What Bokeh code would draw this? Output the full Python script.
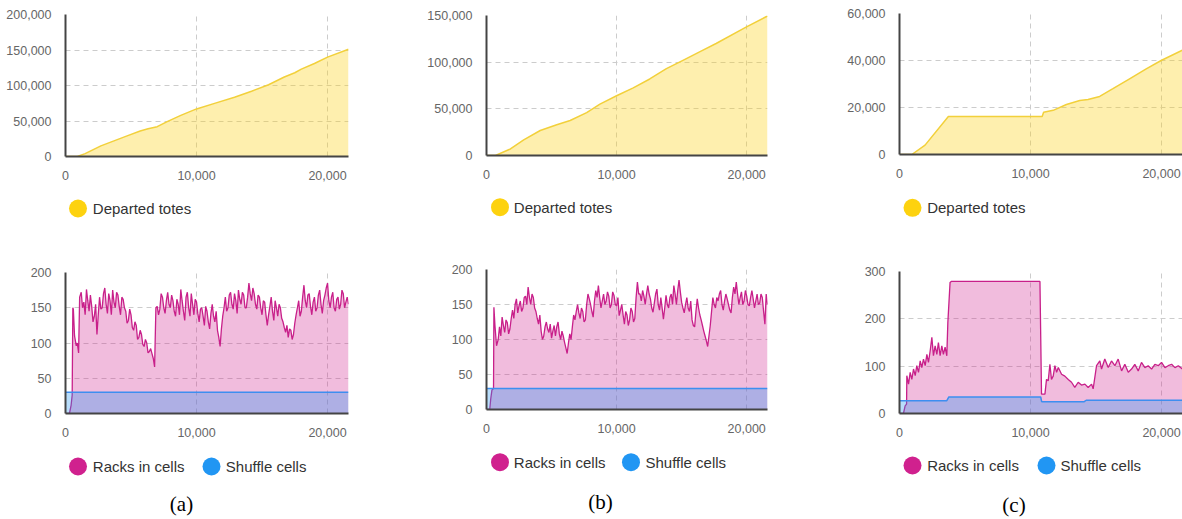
from bokeh.plotting import figure
from bokeh.layouts import column, row
from bokeh.models import Range1d, NumeralTickFormatter, FixedTicker
from bokeh.embed import file_html
from bokeh.resources import INLINE
from bokeh.core.properties import value

# ---------------- data ----------------
X_END = 21600
x_ticks = [0, 10000, 20000]

# (a) departed totes
dep_a_x = [0, 900, 1500, 2700, 3700, 4700, 5700, 6300, 7000, 7800, 8800, 10000, 11500, 12900,
           14200, 15500, 16700, 17500, 18000, 19000, 20000, 21600]
dep_a_y = [0, 0, 4000, 15000, 22000, 29000, 36000, 39000, 42000, 49500, 58000, 67000, 75500,
           83500, 92000, 101000, 112000, 118000, 123000, 131000, 140000, 151000]

# (b) departed totes
dep_b_x = [0, 690, 1840, 2860, 4130, 5400, 6430, 7700, 8720, 10000, 11280, 12550, 13830, 15100,
           16380, 17650, 19950, 21600]
dep_b_y = [0, 0, 7000, 16800, 26800, 33000, 37500, 46000, 55000, 64000, 72500, 82000, 93000,
           102000, 111000, 120000, 137500, 149500]

# (c) departed totes
dep_c_x = [0, 940, 1950, 3730, 10890, 11000, 11730, 12740, 13760, 14390, 15280, 16290, 17560,
           18830, 19970, 21600]
dep_c_y = [0, 0, 4000, 16200, 16200, 18000, 18800, 21300, 23000, 23400, 24700, 28000, 32200,
           36400, 40000, 44400]

# (a) racks in cells: start-up part, then samples every 100 from 1200
racks_a_start_x = [0, 300, 430, 510, 560, 600, 690, 820, 900, 1000, 1080]
racks_a_start_y = [0, 0, 12, 26, 150, 148, 110, 96, 100, 86, 165]
racks_a_main = [172, 150, 158, 140, 176, 160, 145, 168, 152, 130, 138, 155, 112, 140, 165, 148,
                150, 170, 178, 155, 142, 170, 160, 140, 175, 158, 150, 172, 168, 152, 140, 165,
                162, 150, 145, 128, 132, 148, 140, 122, 118, 130, 125, 105, 108, 118, 112, 98,
                95, 105, 100, 86, 88, 92, 85, 78, 66, 150, 152, 140, 148, 170, 165, 150, 142,
                160, 172, 155, 150, 168, 160, 145, 138, 162, 155, 140, 176, 160, 145, 132, 165,
                172, 150, 138, 170, 155, 140, 162, 158, 142, 130, 148, 150, 138, 125, 152, 145,
                130, 120, 142, 155, 138, 130, 145, 118, 108, 95, 120, 138, 150, 165, 145, 150,
                168, 172, 155, 148, 170, 160, 142, 175, 162, 155, 172, 168, 150, 150, 165, 185,
                170, 160, 178, 170, 155, 148, 168, 165, 150, 140, 160, 158, 140, 125, 140, 152,
                165, 145, 132, 160, 150, 138, 155, 150, 135, 130, 122, 115, 125, 108, 120, 118,
                105, 112, 128, 140, 150, 160, 138, 145, 165, 182, 160, 150, 168, 170, 152, 140,
                158, 165, 145, 150, 168, 175, 155, 142, 160, 168, 178, 185, 160, 150, 165, 172,
                150, 145, 162, 165, 148, 155, 175, 170, 150, 158, 165, 155]
shuffle_a_x = [0, 21600]
shuffle_a_y = [30, 30]

# (b) racks in cells: start-up part, then samples every 100 from 1000
racks_b_start_x = [0, 250, 330, 420, 540, 570, 650, 770, 900]
racks_b_start_y = [0, 0, 16, 28, 30, 146, 120, 91, 100]
racks_b_main = [118, 105, 132, 120, 110, 128, 124, 108, 115, 130, 142, 130, 150, 158, 138, 148,
                155, 140, 145, 160, 162, 150, 175, 160, 150, 165, 160, 145, 140, 130, 122, 135,
                112, 100, 105, 118, 125, 115, 110, 122, 102, 112, 120, 105, 118, 125, 108, 100,
                112, 105, 96, 88, 80, 95, 108, 100, 118, 135, 128, 140, 150, 138, 130, 145, 140,
                125, 128, 150, 165, 158, 150, 140, 132, 155, 170, 160, 177, 160, 145, 155, 165,
                150, 155, 168, 162, 145, 150, 168, 163, 150, 148, 160, 134, 142, 150, 135, 122,
                140, 135, 120, 128, 145, 140, 125, 130, 160, 182, 165, 165, 155, 170, 162, 150,
                165, 177, 165, 158, 145, 139, 152, 165, 172, 150, 142, 160, 145, 129, 145, 163,
                150, 145, 160, 165, 150, 177, 165, 150, 170, 185, 168, 153, 145, 138, 150, 160,
                145, 140, 155, 128, 120, 118, 140, 158, 145, 135, 128, 120, 112, 105, 98, 90, 105,
                120, 140, 160, 150, 145, 160, 155, 165, 170, 150, 142, 155, 165, 158, 150, 142,
                138, 160, 175, 165, 182, 165, 150, 160, 168, 150, 155, 170, 162, 150, 148, 160,
                170, 158, 145, 155, 165, 150, 152, 165, 160, 140, 122, 165, 150]
shuffle_b_x = [0, 21600]
shuffle_b_y = [30, 30]

# (c) racks in cells
racks_c_x = [0, 300, 430, 540, 560, 690, 815, 940, 1070, 1200, 1320, 1450, 1580, 1700, 1830,
             1960, 2090, 2210, 2340, 2470, 2590, 2720, 2850, 2970, 3100, 3230, 3350, 3480, 3610,
             3690, 3860, 3950, 7000, 10720, 10840, 11100, 11220, 11350, 11480, 11600, 11730,
             11860, 11990, 12120, 12370, 12620, 12880, 13130, 13380, 13640, 13890, 14150, 14400,
             14660, 14780, 15040, 15290, 15420, 15670, 15930, 16180, 16440, 16690, 16950, 17200,
             17460, 17710, 17960, 18220, 18470, 18730, 18980, 19240, 19490, 19750, 20000, 20260,
             20510, 20770, 21020, 21280, 21600]
racks_c_y = [0, 0, 16, 20, 80, 62, 87, 72, 94, 80, 101, 87, 111, 97, 115, 101, 125, 108, 132,
             161, 122, 143, 125, 150, 122, 143, 125, 140, 122, 192, 277, 279, 279, 279, 41, 41,
             72, 69, 104, 72, 79, 101, 87, 97, 83, 79, 72, 66, 55, 66, 60, 62, 55, 62, 52, 101,
             111, 94, 115, 97, 111, 101, 115, 90, 104, 87, 94, 104, 90, 108, 97, 101, 94, 104,
             101, 108, 97, 101, 104, 97, 101, 94]
shuffle_c_x = [0, 3610, 3770, 10780, 10850, 14100, 14250, 21600]
shuffle_c_y = [27, 27, 35, 35, 25, 25, 28, 28]

racks_a_x = racks_a_start_x + list(range(1200, 1200 + 100 * len(racks_a_main), 100))
racks_a_y = racks_a_start_y + racks_a_main
racks_b_x = racks_b_start_x + list(range(1000, 1000 + 100 * len(racks_b_main), 100))
racks_b_y = racks_b_start_y + racks_b_main

# ---------------- style ----------------
FONT = "Liberation Sans"
YEL_LINE, YEL_FILL, YEL_DOT = "#F2D03B", "#FCD116", "#FDD20F"
MAG_LINE, MAG_FILL = "#C8208A", "#D0218E"
BLU_LINE, BLU_FILL = "#3D8EF0", "#2196F3"


def chart(width, height, bl, br, bt, bb, ymax, yticks):
    p = figure(width=width, height=height, x_range=Range1d(0, X_END), y_range=Range1d(0, ymax),
               output_backend="svg", toolbar_location=None, frame_align=False,
               min_border_left=bl, min_border_right=br, min_border_top=bt, min_border_bottom=bb)
    p.outline_line_color = None
    p.background_fill_color = "white"
    p.border_fill_color = "white"
    p.xaxis.ticker = FixedTicker(ticks=x_ticks)
    p.yaxis.ticker = FixedTicker(ticks=yticks)
    for ax in (p.xaxis, p.yaxis):
        ax.formatter = NumeralTickFormatter(format="0,0")
        ax.axis_line_color = "#444444"
        ax.axis_line_width = 2
        ax.major_tick_line_color = None
        ax.minor_tick_line_color = None
        ax.major_label_text_font = FONT
        ax.major_label_text_font_size = "12.5px"
        ax.major_label_text_color = "#666666"
        ax.major_label_standoff = 8
    for g in (p.xgrid, p.ygrid):
        g.grid_line_color = "#cccccc"
        g.grid_line_dash = "5 4"
        g.grid_line_width = 1
    return p


def legend_fig(width, height, items, caption=None):
    q = figure(width=width, height=height, x_range=Range1d(0, width), y_range=Range1d(height, 0),
               output_backend="svg", toolbar_location=None, min_border=0, frame_align=False,
               x_axis_type=None, y_axis_type=None)
    q.outline_line_color = None
    for cx, cy, tx, label, col in items:
        q.scatter([cx], [cy], size=18, color=col, line_color=None)
        q.text([tx], [cy], text=[label], text_font=value(FONT), text_font_size="15px",
               text_color="#333333", text_baseline="middle", text_align="left")
    if caption is not None:
        cx, cy, label = caption
        q.text([cx], [cy], text=[label], text_font=value("Liberation Serif"),
               text_font_size="21px", text_color="#000000", text_baseline="middle",
               text_align="center")
    return q


def top_panel(width, bl, br, bt, bb, ymax, yticks, xs, ys):
    p = chart(width, 185, bl, br, bt, bb, ymax, yticks)
    p.varea(x=xs, y1=[0] * len(xs), y2=ys, fill_color=YEL_FILL, fill_alpha=0.35)
    p.line(xs, ys, line_color=YEL_LINE, line_width=1.5)
    return p


def bottom_panel(width, bl, br, bt, bb, ymax, yticks, rx, ry, sx, sy):
    p = chart(width, 208, bl, br, bt, bb, ymax, yticks)
    p.varea(x=rx, y1=[0] * len(rx), y2=ry, fill_color=MAG_FILL, fill_alpha=0.3)
    p.line(rx, ry, line_color=MAG_LINE, line_width=1.3)
    p.varea(x=sx, y1=[0] * len(sx), y2=sy, fill_color=BLU_FILL, fill_alpha=0.32)
    p.line(sx, sy, line_color=BLU_LINE, line_width=1.5)
    return p


# column (a)  page x 0..400
ta = top_panel(400, 65, 52, 14, 29, 200000, [0, 50000, 100000, 150000, 200000], dep_a_x, dep_a_y)
la = legend_fig(400, 47, [(77.5, 23, 92.3, "Departed totes", YEL_DOT)])
ba = bottom_panel(400, 65, 52, 40, 27, 200, [0, 50, 100, 150, 200], racks_a_x, racks_a_y,
                  shuffle_a_x, shuffle_a_y)
la2 = legend_fig(400, 79, [(77.5, 26, 92.3, "Racks in cells", MAG_FILL),
                           (211, 26, 225.3, "Shuffle cells", BLU_FILL)], (181, 63, "(a)"))

# column (b)  page x 400..790
tb = top_panel(390, 86, 23, 15, 30, 150000, [0, 50000, 100000, 150000], dep_b_x, dep_b_y)
lb = legend_fig(390, 47, [(99.5, 21.7, 113.3, "Departed totes", YEL_DOT)])
bb_ = bottom_panel(390, 86, 23, 37, 31, 200, [0, 50, 100, 150, 200], racks_b_x, racks_b_y,
                   shuffle_b_x, shuffle_b_y)
lb2 = legend_fig(390, 79, [(99.5, 21.7, 113.3, "Racks in cells", MAG_FILL),
                           (230.5, 21.7, 245, "Shuffle cells", BLU_FILL)], (200, 61.7, "(b)"))

# column (c)  page x 790..1182
tc = top_panel(392, 109, 0, 13, 31, 60000, [0, 20000, 40000, 60000], dep_c_x, dep_c_y)
lc = legend_fig(392, 47, [(122, 22.3, 136.7, "Departed totes", YEL_DOT)])
bc = bottom_panel(392, 109, 0, 39, 27, 300, [0, 100, 200, 300], racks_c_x, racks_c_y,
                  shuffle_c_x, shuffle_c_y)
lc2 = legend_fig(392, 79, [(122, 25, 136.7, "Racks in cells", MAG_FILL),
                           (256, 25, 270, "Shuffle cells", BLU_FILL)], (223.5, 64, "(c)"))

layout = row(column(ta, la, ba, la2), column(tb, lb, bb_, lb2), column(tc, lc, bc, lc2))

open("out.html", "w").write(file_html(layout, INLINE))
